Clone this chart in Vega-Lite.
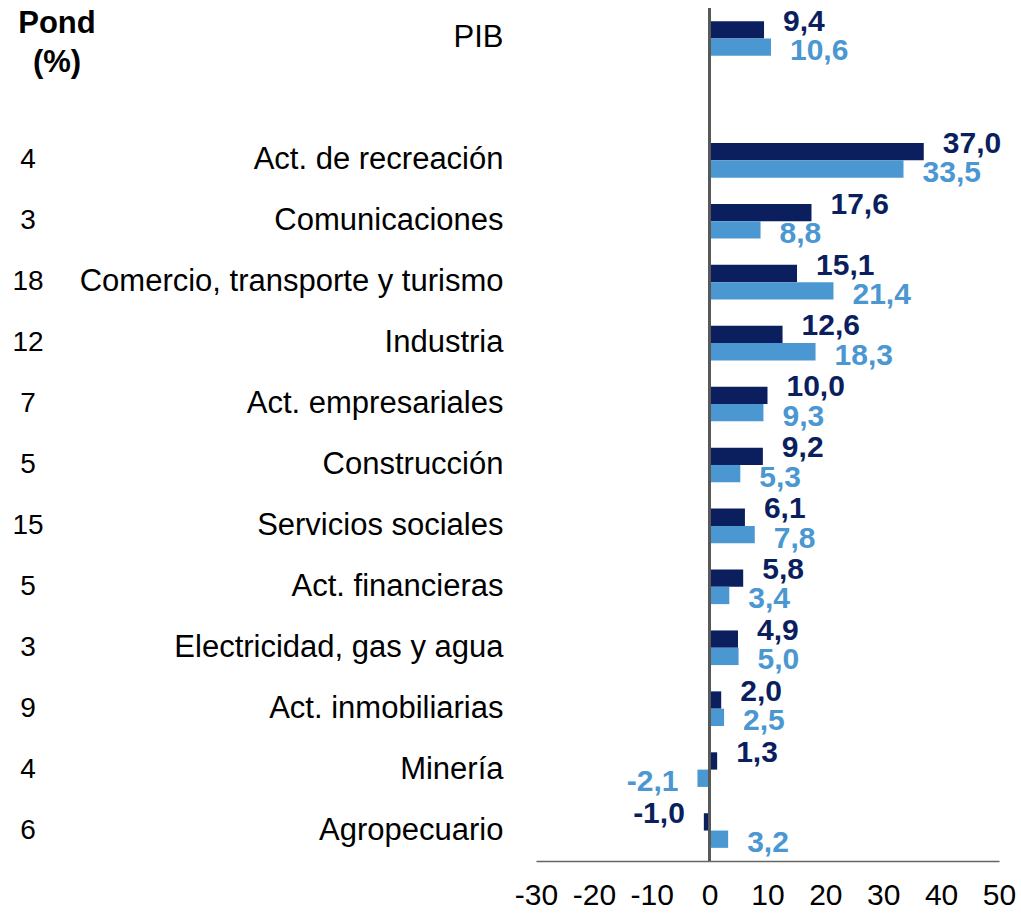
{
  "$schema": "https://vega.github.io/schema/vega-lite/v6.json",
  "bounds": "flush",
  "padding": {"top": 6, "left": 0, "right": 0, "bottom": 0},
  "spacing": 480,
  "config": {
    "view": {"stroke": null},
    "font": "Liberation Sans",
    "locale": {"number": {"decimal": ",", "thousands": ".", "grouping": [3], "currency": ["", ""], "minus": "-"}}
  },
  "datasets": {
    "bars": [
      {"cat": "PIB", "series": "A", "value": 9.4},
      {"cat": "PIB", "series": "B", "value": 10.6},
      {"cat": "Act. de recreación", "series": "A", "value": 37.0},
      {"cat": "Act. de recreación", "series": "B", "value": 33.5},
      {"cat": "Comunicaciones", "series": "A", "value": 17.6},
      {"cat": "Comunicaciones", "series": "B", "value": 8.8},
      {"cat": "Comercio, transporte y turismo\u00a0", "series": "A", "value": 15.1},
      {"cat": "Comercio, transporte y turismo\u00a0", "series": "B", "value": 21.4},
      {"cat": "Industria", "series": "A", "value": 12.6},
      {"cat": "Industria", "series": "B", "value": 18.3},
      {"cat": "Act. empresariales", "series": "A", "value": 10.0},
      {"cat": "Act. empresariales", "series": "B", "value": 9.3},
      {"cat": "Construcción", "series": "A", "value": 9.2},
      {"cat": "Construcción", "series": "B", "value": 5.3},
      {"cat": "Servicios sociales", "series": "A", "value": 6.1},
      {"cat": "Servicios sociales", "series": "B", "value": 7.8},
      {"cat": "Act. financieras\u00a0", "series": "A", "value": 5.8},
      {"cat": "Act. financieras\u00a0", "series": "B", "value": 3.4},
      {"cat": "Electricidad, gas y agua", "series": "A", "value": 4.9},
      {"cat": "Electricidad, gas y agua", "series": "B", "value": 5.0},
      {"cat": "Act. inmobiliarias", "series": "A", "value": 2.0},
      {"cat": "Act. inmobiliarias", "series": "B", "value": 2.5},
      {"cat": "Minería", "series": "A", "value": 1.3},
      {"cat": "Minería", "series": "B", "value": -2.1},
      {"cat": "Agropecuario", "series": "A", "value": -1.0},
      {"cat": "Agropecuario", "series": "B", "value": 3.2}
    ],
    "pond": [
      {"cat": "Act. de recreación", "pond": "4"},
      {"cat": "Comunicaciones", "pond": "3"},
      {"cat": "Comercio, transporte y turismo\u00a0", "pond": "18"},
      {"cat": "Industria", "pond": "12"},
      {"cat": "Act. empresariales", "pond": "7"},
      {"cat": "Construcción", "pond": "5"},
      {"cat": "Servicios sociales", "pond": "15"},
      {"cat": "Act. financieras\u00a0", "pond": "5"},
      {"cat": "Electricidad, gas y agua", "pond": "3"},
      {"cat": "Act. inmobiliarias", "pond": "9"},
      {"cat": "Minería", "pond": "4"},
      {"cat": "Agropecuario", "pond": "6"}
    ],
    "header": [
      {"cat": "PIB", "label": "Pond\n(%)"}
    ]
  },
  "hconcat": [
    {
      "width": 56,
      "height": 853,
      "layer": [
        {
          "data": {"name": "pond"},
          "mark": {"type": "text", "fontSize": 28, "color": "#000000", "baseline": "middle"},
          "encoding": {
            "y": {"field": "cat", "type": "nominal", "axis": null, "sort": null,
              "scale": {"domain": ["PIB", " ", "Act. de recreación", "Comunicaciones", "Comercio, transporte y turismo\u00a0", "Industria", "Act. empresariales", "Construcción", "Servicios sociales", "Act. financieras\u00a0", "Electricidad, gas y agua", "Act. inmobiliarias", "Minería", "Agropecuario"]}},
            "text": {"field": "pond"}
          }
        },
        {
          "data": {"name": "header"},
          "mark": {"type": "text", "fontSize": 31, "fontWeight": "bold", "color": "#000000", "baseline": "middle", "lineBreak": "\n", "lineHeight": 39, "dx": 29, "dy": -14},
          "encoding": {
            "y": {"field": "cat", "type": "nominal", "axis": null},
            "text": {"field": "label"}
          }
        }
      ]
    },
    {
      "width": 463,
      "height": 853,
      "data": {"name": "bars"},
      "encoding": {
        "y": {"field": "cat", "type": "nominal", "sort": null,
          "scale": {"domain": ["PIB", " ", "Act. de recreación", "Comunicaciones", "Comercio, transporte y turismo\u00a0", "Industria", "Act. empresariales", "Construcción", "Servicios sociales", "Act. financieras\u00a0", "Electricidad, gas y agua", "Act. inmobiliarias", "Minería", "Agropecuario"], "paddingInner": 0.432, "paddingOuter": 0.216},
          "axis": {"title": null, "domain": false, "ticks": false, "labelFontSize": 31, "labelColor": "#000000", "labelPadding": 33, "labelLimit": 1000}},
        "yOffset": {"field": "series", "type": "nominal", "scale": {"paddingInner": 0, "paddingOuter": 0}},
        "x": {"field": "value", "type": "quantitative",
          "scale": {"domain": [-30, 50], "nice": false, "zero": false},
          "axis": {"title": null, "values": [-30, -20, -10, 0, 10, 20, 30, 40, 50], "format": "d", "grid": false, "ticks": false, "domainColor": "#666666", "domainWidth": 1.5, "labelFontSize": 30, "labelColor": "#000000", "labelPadding": 19, "labelOverlap": false, "labelFlush": false, "labelBound": false}},
        "color": {"field": "series", "type": "nominal", "legend": null, "scale": {"domain": ["A", "B"], "range": ["#0b1f5e", "#4a97d1"]}}
      },
      "layer": [
        {"mark": {"type": "bar"}},
        {
          "mark": {"type": "text", "fontSize": 30, "fontWeight": "bold", "baseline": "middle",
            "align": {"expr": "datum.value < 0 ? 'right' : 'left'"},
            "dx": {"expr": "datum.value < 0 ? -19 : 19"},
            "dy": {"expr": "datum.series == 'A' ? -8 : 4"}},
          "encoding": {"text": {"field": "value", "type": "quantitative", "format": ".1f"}}
        },
        {
          "mark": {"type": "rule", "color": "#595959", "strokeWidth": 2},
          "encoding": {"x": {"datum": 0}, "y": null, "yOffset": null, "color": null}
        }
      ]
    }
  ]
}
